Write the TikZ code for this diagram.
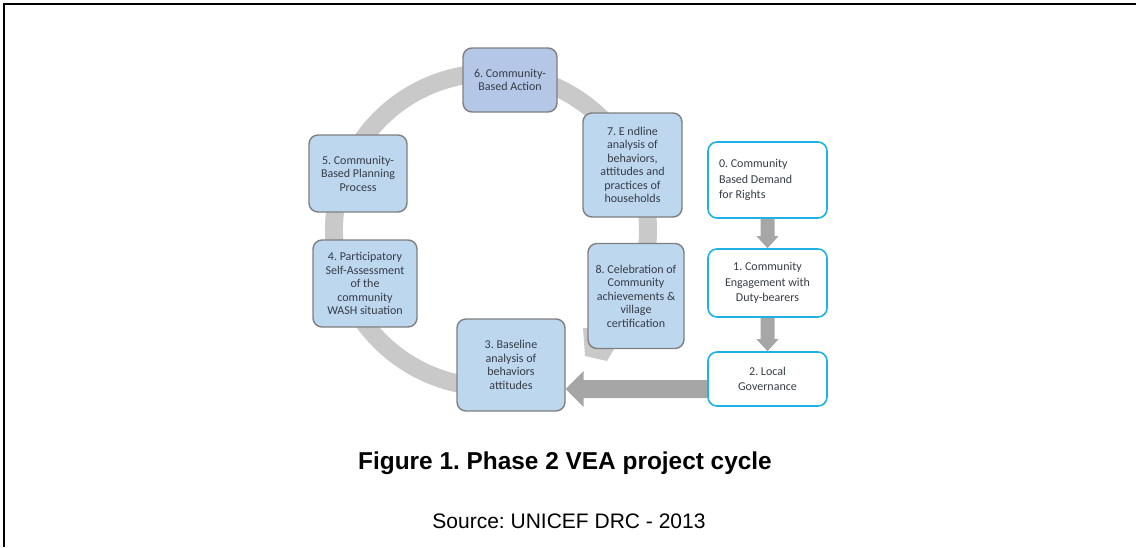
\documentclass[tikz,border=0pt]{standalone}
\usepackage{fontspec}
\setmainfont{Carlito}
\newfontfamily\arialfont{Liberation Sans}
\usetikzlibrary{calc, positioning}
\frenchspacing

\definecolor{ringgray}{RGB}{201,201,201}
\definecolor{arrowgray}{RGB}{166,166,166}
\definecolor{boxblue}{RGB}{189,215,238}
\definecolor{actionblue}{RGB}{180,199,231}
\definecolor{boxedge}{RGB}{127,127,127}
\definecolor{cyanedge}{RGB}{30,176,230}
\definecolor{boxtext}{RGB}{55,60,70}

\tikzset{
  cyclebox/.style={draw=boxedge, line width=1.4pt, fill=boxblue, rounded corners=9pt,
    align=center, text=boxtext, inner sep=2pt, font=\fontsize{12}{13.5}\selectfont},
  rightsbox/.style={draw=cyanedge, line width=1.6pt, fill=white, rounded corners=9pt,
    text=boxtext, inner sep=2pt, font=\fontsize{12}{15.3}\selectfont,
    minimum width=119pt},
}

\begin{document}
\begin{tikzpicture}[x=1pt, y=-1pt]
\def\ringR{157}
\def\shaft{7}
\def\head{11}
\def\headlen{12}

\useasboundingbox (0,0) rectangle (1136,547);
\draw[line width=2.7pt] (4,547) -- (4,4) -- (1136,4);

% cycle ring behind the boxes
\coordinate (ringc) at (491,230);
\draw[ringgray, line width=18pt] ($(ringc)+(80:\ringR)$) arc[start angle=80, end angle=400, radius=\ringR];
\fill[ringgray] (583,328) -- (585,356) -- (607,361) -- (625,330) -- cycle;

% cycle steps
\node[cyclebox, fill=actionblue, minimum width=94pt, minimum height=64pt] (b6) at (510,80)
  {6. Community-\\Based Action};
\node[cyclebox, minimum width=98pt, minimum height=77pt] (b5) at (358,173.5)
  {5. Community-\\Based Planning\\Process};
\node[cyclebox, minimum width=99pt, minimum height=104pt] (b7) at (632.5,165)
  {7. E ndline\\analysis of\\behaviors,\\attitudes and\\practices of\\households};
\node[cyclebox, minimum width=104pt, minimum height=87pt] (b4) at (365,283.5)
  {4. Participatory\\Self-Assessment\\of the\\community\\WASH situation};
\node[cyclebox, minimum width=96pt, minimum height=105pt] (b8) at (636,296)
  {8. Celebration of\\Community\\achievements \&\\village\\certification};
\node[cyclebox, minimum width=108pt, minimum height=92pt] (b3) at (511,365)
  {3. Baseline\\analysis of\\behaviors\\attitudes};

% rights chain
\node[rightsbox, align=flush left, minimum height=76pt, text width=97pt] (b0) at (767.5,180)
  {0. Community\\Based Demand\\for Rights};
\node[rightsbox, align=center, minimum height=68pt] (b1) at (767.5,283)
  {1. Community\\Engagement with\\Duty-bearers};
\node[rightsbox, align=center, minimum height=54pt] (b2) at (767.5,379)
  {2. Local\\Governance};

\foreach \from/\to in {b0/b1, b1/b2}
  \fill[arrowgray] ($(\from.south)+(-\shaft,0)$) -- ($(\to.north)+(-\shaft,-\headlen)$)
    -- ($(\to.north)+(-\head,-\headlen)$) -- (\to.north) -- ($(\to.north)+(\head,-\headlen)$)
    -- ($(\to.north)+(\shaft,-\headlen)$) -- ($(\from.south)+(\shaft,0)$) -- cycle;

\coordinate (tailend) at ($(b2.west)+(0,10)$);
\coordinate (tip) at ($(b3.east)+(0,24)$);
\fill[arrowgray] ($(tailend)+(0,-9)$) -- ($(tip)+(18,-9)$) -- ($(tip)+(18,-18)$) -- (tip)
  -- ($(tip)+(18,18)$) -- ($(tip)+(18,9)$) -- ($(tailend)+(0,9)$) -- cycle;

\node[font=\arialfont\bfseries\fontsize{24.4}{27}\selectfont] (title) at (565,463)
  {Figure 1. Phase 2 VEA project cycle};
\node[font=\arialfont\fontsize{21}{24}\selectfont] (source) at (569,521)
  {Source: UNICEF DRC - 2013};
\end{tikzpicture}
\end{document}
